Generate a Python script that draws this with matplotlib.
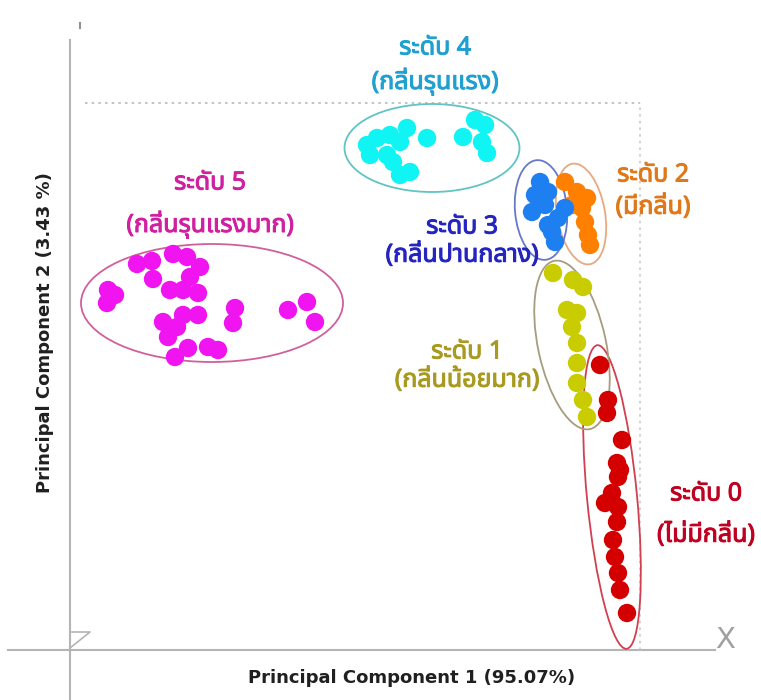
import matplotlib
matplotlib.use("Agg")
import matplotlib.pyplot as plt
from matplotlib.patches import Ellipse
from matplotlib import font_manager, patheffects
from matplotlib.ft2font import FT2Font

# ---------------- data (PC scores) ----------------
lvl5_pc1 = [0.67, 0.82, 0.83, 1.03, 1.17, 1.30, 1.20, 1.00, 1.13, 1.28, 0.38, 0.45, 0.37,
            1.65, 1.63, 2.18, 2.37, 2.45, 0.93, 1.13, 1.28, 1.07, 0.98, 1.18, 1.05, 1.38, 1.48]
lvl5_pc2 = [3.86, 3.89, 3.71, 3.96, 3.93, 3.83, 3.73, 3.60, 3.60, 3.57, 3.60, 3.55, 3.47,
            3.42, 3.27, 3.40, 3.48, 3.28, 3.28, 3.35, 3.35, 3.23, 3.13, 3.02, 2.93, 3.03, 3.00]

lvl4_pc1 = [3.00, 3.07, 3.20, 3.37, 3.30, 3.57, 3.17, 3.30, 3.40, 3.93, 4.05, 4.15, 4.12, 4.17, 3.23, 2.97]
lvl4_pc2 = [4.95, 5.12, 5.15, 5.22, 5.08, 5.12, 4.95, 4.75, 4.78, 5.13, 5.30, 5.25, 5.08, 4.97, 4.88, 5.05]

lvl3_pc1 = [4.70, 4.65, 4.78, 4.75, 4.62, 4.88, 4.82, 4.85, 4.78, 4.95]
lvl3_pc2 = [4.68, 4.55, 4.58, 4.45, 4.38, 4.32, 4.18, 4.08, 4.25, 4.42]

lvl2_pc1 = [4.95, 5.07, 5.17, 5.12, 5.15, 5.18, 5.20, 5.02]
lvl2_pc2 = [4.68, 4.58, 4.52, 4.42, 4.28, 4.15, 4.05, 4.45]

lvl1_pc1 = [4.83, 5.03, 5.13, 4.97, 5.07, 5.02, 5.07, 5.07, 5.07, 5.13, 5.17]
lvl1_pc2 = [3.77, 3.70, 3.63, 3.40, 3.37, 3.23, 3.07, 2.87, 2.67, 2.50, 2.33]

lvl0_pc1 = [5.30, 5.38, 5.37, 5.52, 5.47, 5.50, 5.48, 5.42, 5.35, 5.48, 5.47, 5.43, 5.45, 5.48, 5.50, 5.57]
lvl0_pc2 = [2.85, 2.50, 2.37, 2.10, 1.87, 1.80, 1.73, 1.57, 1.47, 1.43, 1.28, 1.10, 0.93, 0.77, 0.60, 0.37]

level_titles = ["ระดับ 0", "ระดับ 1", "ระดับ 2", "ระดับ 3", "ระดับ 4", "ระดับ 5"]
level_desc = ["(ไม่มีกลิ่น)", "(กลิ่นน้อยมาก)", "(มีกลิ่น)", "(กลิ่นปานกลาง)", "(กลิ่นรุนแรง)", "(กลิ่นรุนแรงมาก)"]

xlabel = "Principal Component 1 (95.07%)"
ylabel = "Principal Component 2 (3.43 %)"

# ---------------- styling ----------------
point_colors = ["#d40000", "#c8cc00", "#ff8000", "#1e80f0", "#10f4f4", "#f014f0"]
ellipse_colors = ["#d04050", "#a89c80", "#e8a880", "#6878c8", "#60c4c4", "#d0609c"]
text_colors = ["#c00020", "#a89a20", "#e07818", "#2424c0", "#20a0d0", "#d020a0"]
# ellipse: (center x, center y, width, height, angle)
ellipses = [(5.42, 1.53, 0.50, 3.05, 5.5),
            (5.02, 3.05, 0.68, 1.72, 12),
            (5.11, 4.36, 0.48, 1.02, 10),
            (4.71, 4.40, 0.52, 1.00, 5),
            (3.62, 5.02, 1.75, 0.88, 0),
            (1.42, 3.47, 2.62, 1.18, 0)]
label_pos = [(6.36, 1.56, 1.15), (3.97, 2.98, 2.70), (5.83, 4.75, 4.43),
             (3.92, 4.23, 3.95), (3.65, 6.02, 5.68), (1.40, 4.67, 4.25)]


def find_font(codepoint, prefer=()):
    names = []
    for f in font_manager.fontManager.ttflist:
        try:
            if codepoint in FT2Font(f.fname).get_charmap():
                names.append(f.name)
        except Exception:
            pass
    for p in prefer:
        if p in names:
            return p
    return names[0] if names else "DejaVu Sans"


thai_font = find_font(0x0E01, prefer=("Noto Sans Thai", "Noto Sans Thai UI", "Loma", "Garuda", "Tahoma"))

fig = plt.figure(figsize=(7.61, 7.00), dpi=100)
ax = fig.add_axes([0, 0, 1, 1])
ax.set_xlim(-0.70, 6.91)
ax.set_ylim(-0.50, 6.50)
ax.set_axis_off()

gray = "#b4b4b4"
# main axis lines
ax.plot([-0.62, 6.45], [0, 0], color=gray, lw=1.5, zorder=1)
ax.plot([0, 0], [-0.50, 6.10], color=gray, lw=1.5, zorder=1)
ax.plot([0.10, 0.10], [6.22, 6.27], color="#909090", lw=1.5, zorder=1)
ax.plot([0.02, 0.20, 0.0], [0.18, 0.18, 0.02], color=gray, lw=1.2, zorder=1)
# dotted frame
ax.plot([0.15, 5.70], [5.47, 5.47], color="#b8b8b8", lw=1.2, ls=(0, (1.5, 2.5)), zorder=1)
ax.plot([5.70, 5.70], [0.0, 5.47], color="#c8c8c8", lw=1.2, ls=(0, (1.5, 2.5)), zorder=1)
ax.text(6.55, 0.10, "X", color="#a0a0a0", fontsize=21, ha="center", va="center",
        family="DejaVu Sans")

groups = [(lvl0_pc1, lvl0_pc2), (lvl1_pc1, lvl1_pc2), (lvl2_pc1, lvl2_pc2),
          (lvl3_pc1, lvl3_pc2), (lvl4_pc1, lvl4_pc2), (lvl5_pc1, lvl5_pc2)]
for i, (xs, ys) in enumerate(groups):
    ax.scatter(xs, ys, s=175, color=point_colors[i], edgecolors="none", zorder=3)
    cx, cy, w, h, ang = ellipses[i]
    ax.add_patch(Ellipse((cx, cy), w, h, angle=ang, fill=False,
                         edgecolor=ellipse_colors[i], lw=1.3, zorder=2))
    lx, ly1, ly2 = label_pos[i]
    pe = [patheffects.withStroke(linewidth=0.7, foreground=text_colors[i])]
    ax.text(lx, ly1, level_titles[i], color=text_colors[i], fontsize=18,
            ha="center", va="center", family=[thai_font, "DejaVu Sans"], zorder=4,
            path_effects=pe)
    ax.text(lx, ly2, level_desc[i], color=text_colors[i], fontsize=18,
            ha="center", va="center", family=[thai_font, "DejaVu Sans"], zorder=4,
            path_effects=pe)

ax.text(3.42, -0.28, xlabel, fontsize=13, ha="center", va="center", color="#202020",
        family="DejaVu Sans", fontweight="bold")
ax.text(-0.25, 3.17, ylabel, fontsize=13, ha="center", va="center", color="#202020",
        family="DejaVu Sans", fontweight="bold", rotation=90)

fig.savefig("out.png", dpi=100)
